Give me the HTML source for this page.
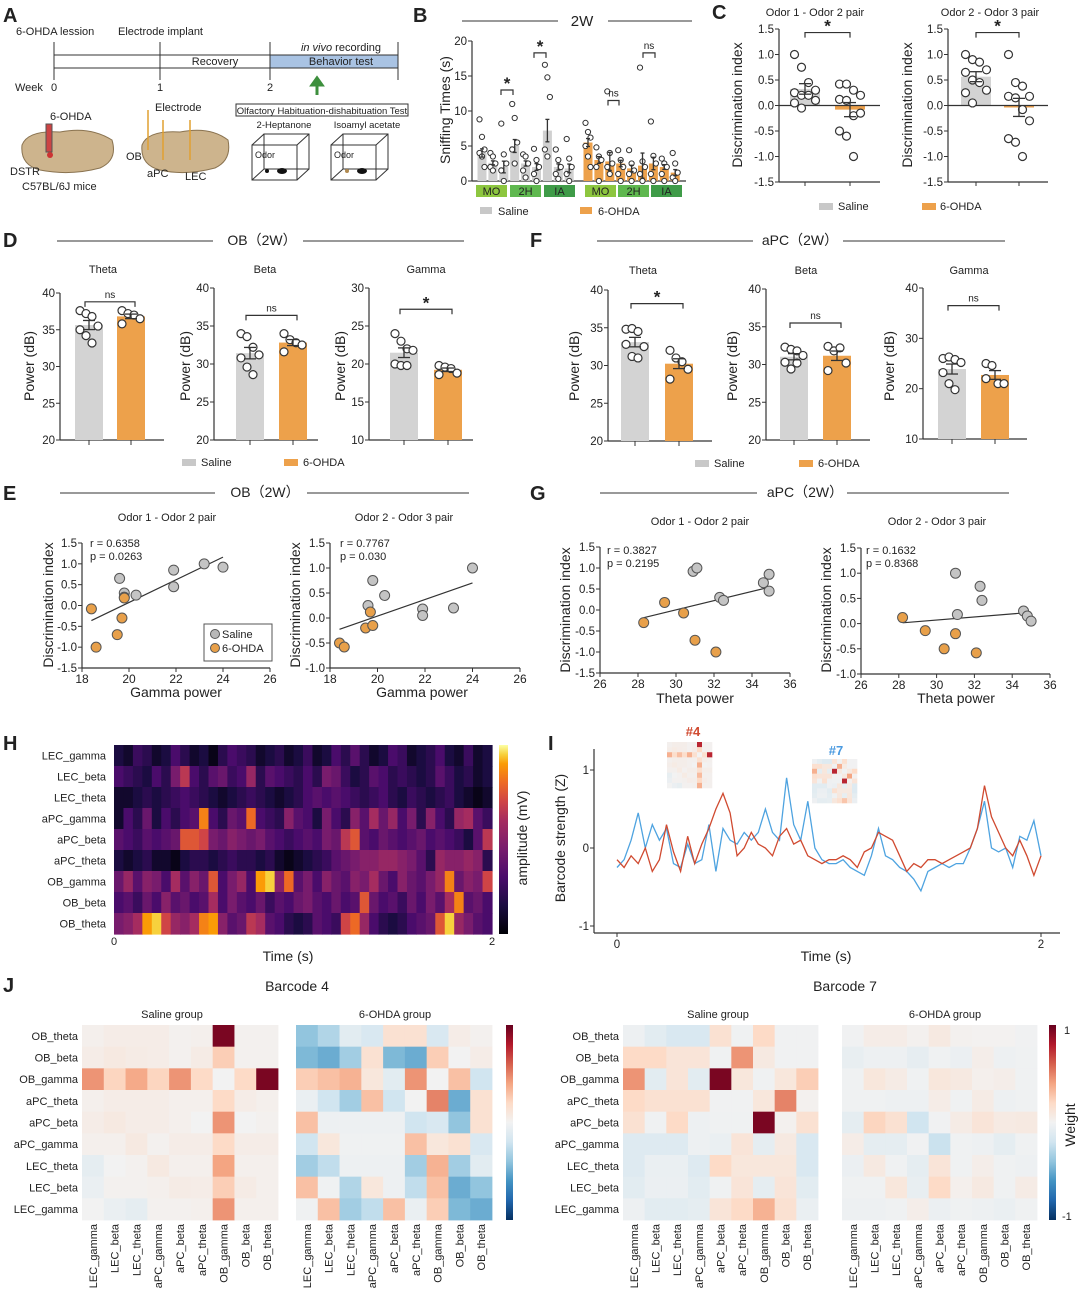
<!DOCTYPE html>
<html><head><meta charset="utf-8">
<style>
html,body{margin:0;padding:0;background:#fff;}
svg{display:block;font-family:"Liberation Sans","Noto Sans CJK SC",sans-serif;}
.t{fill:#222;}
</style></head>
<body>
<svg id="fig" width="1080" height="1296" viewBox="0 0 1080 1296" xmlns="http://www.w3.org/2000/svg">
<defs>
<linearGradient id="infernoGrad" x1="0" y1="1" x2="0" y2="0">
<stop offset="0" stop-color="#000004"/><stop offset="0.15" stop-color="#1b0c41"/><stop offset="0.3" stop-color="#4a0c6b"/><stop offset="0.45" stop-color="#781c6d"/><stop offset="0.6" stop-color="#a52c60"/><stop offset="0.7" stop-color="#cf4446"/><stop offset="0.8" stop-color="#ed6925"/><stop offset="0.9" stop-color="#fb9b06"/><stop offset="0.95" stop-color="#f7d13d"/><stop offset="1" stop-color="#fcffa4"/>
</linearGradient>
<linearGradient id="rdbuGrad" x1="0" y1="1" x2="0" y2="0">
<stop offset="0" stop-color="#053061"/><stop offset="0.1" stop-color="#2166ac"/><stop offset="0.2" stop-color="#4393c3"/><stop offset="0.3" stop-color="#92c5de"/><stop offset="0.4" stop-color="#d1e5f0"/><stop offset="0.5" stop-color="#f2f2f2"/><stop offset="0.6" stop-color="#fddbc7"/><stop offset="0.7" stop-color="#f4a582"/><stop offset="0.8" stop-color="#d6604d"/><stop offset="0.9" stop-color="#b2182b"/><stop offset="1" stop-color="#67001f"/>
</linearGradient>
</defs>

<!-- Panel letters -->
<g font-weight="bold" font-size="20" class="t">
<text x="3" y="22">A</text>
<text x="413" y="22">B</text>
<text x="712" y="19">C</text>
<text x="3" y="247">D</text>
<text x="530" y="247">F</text>
<text x="3" y="500">E</text>
<text x="530" y="500">G</text>
<text x="3" y="750">H</text>
<text x="548" y="750">I</text>
<text x="3" y="992">J</text>
</g>

<!-- Panel A schematic -->
<g font-size="11" class="t">
<text x="16" y="35">6-OHDA lession</text>
<text x="118" y="35">Electrode implant</text>
<rect x="270" y="55" width="128" height="13" fill="#a9c3e3"/>
<line x1="54" y1="55" x2="398" y2="55" stroke="#333"/>
<line x1="54" y1="68" x2="398" y2="68" stroke="#333"/>
<line x1="54" y1="42" x2="54" y2="80" stroke="#333"/><line x1="160" y1="42" x2="160" y2="80" stroke="#333"/>
<line x1="270" y1="42" x2="270" y2="80" stroke="#333"/><line x1="398" y1="42" x2="398" y2="80" stroke="#333"/>
<text x="215" y="65" text-anchor="middle">Recovery</text>
<text x="341" y="65" text-anchor="middle">Behavior test</text>
<text x="341" y="51" text-anchor="middle"><tspan font-style="italic">in vivo</tspan> recording</text>
<text x="15" y="91">Week</text>
<text x="51" y="91">0</text><text x="157" y="91">1</text><text x="267" y="91">2</text>
<path d="M317 95 L317 83 M312 85 L317 78 L322 85 Z" stroke="#3d8f3d" fill="#3d8f3d" stroke-width="3"/>
<text x="50" y="120">6-OHDA</text>
<path d="M22 145 Q28 130 60 132 Q90 126 112 140 Q118 160 100 168 Q70 176 40 170 Q20 165 22 145 Z" fill="#cdb48d" stroke="#8a7350"/>
<rect x="46" y="124" width="6" height="28" fill="#c44" stroke="#555"/>
<circle cx="50" cy="155" r="3" fill="#c33"/>
<text x="10" y="175">DSTR</text>
<text x="22" y="190">C57BL/6J mice</text>
<text x="155" y="111">Electrode</text>
<path d="M142 145 Q148 130 180 132 Q210 126 228 140 Q232 160 215 168 Q185 176 160 170 Q140 165 142 145 Z" fill="#cdb48d" stroke="#8a7350"/>
<line x1="148" y1="110" x2="148" y2="150" stroke="#e0a030" stroke-width="1.5"/><line x1="163" y1="120" x2="163" y2="160" stroke="#e0a030" stroke-width="1.5"/><line x1="190" y1="120" x2="190" y2="160" stroke="#e0a030" stroke-width="1.5"/>
<text x="126" y="160">OB</text>
<text x="147" y="177">aPC</text>
<text x="185" y="180">LEC</text>
<rect x="236" y="104" width="172" height="12" fill="none" stroke="#333"/>
<text x="322" y="114" text-anchor="middle" font-size="9.5">Olfactory Habituation-dishabituation Test</text>
<text x="284" y="128" text-anchor="middle" font-size="9.5">2-Heptanone</text>
<text x="367" y="128" text-anchor="middle" font-size="9.5">Isoamyl acetate</text>
<g fill="none" stroke="#333"><rect x="252" y="145" width="45" height="35"/><rect x="264" y="134" width="45" height="35"/><line x1="252" y1="145" x2="264" y2="134"/><line x1="297" y1="145" x2="309" y2="134"/><line x1="252" y1="180" x2="264" y2="169"/><line x1="297" y1="180" x2="309" y2="169"/></g>
<g fill="none" stroke="#333"><rect x="331" y="145" width="45" height="35"/><rect x="343" y="134" width="45" height="35"/><line x1="331" y1="145" x2="343" y2="134"/><line x1="376" y1="145" x2="388" y2="134"/><line x1="331" y1="180" x2="343" y2="169"/><line x1="376" y1="180" x2="388" y2="169"/></g>
<text x="255" y="158" font-size="9">Odor</text><text x="334" y="158" font-size="9">Odor</text>
<circle cx="267" cy="171" r="2" fill="#111"/><ellipse cx="282" cy="171" rx="5" ry="3" fill="#111"/>
<circle cx="347" cy="171" r="2" fill="#b08a50"/><ellipse cx="362" cy="171" rx="5" ry="3" fill="#111"/>
</g>

<!-- Panel B static -->
<g class="t" font-size="12">
<text x="582" y="26" text-anchor="middle" font-size="15">2W</text>
<line x1="462" y1="21" x2="558" y2="21" stroke="#333"/><line x1="608" y1="21" x2="692" y2="21" stroke="#333"/>
<text transform="translate(450,110) rotate(-90)" text-anchor="middle" font-size="14">Sniffing Times (s)</text>
<rect x="480" y="207" width="12" height="7" fill="#c8c8c8"/>
<text x="498" y="215" font-size="11">Saline</text>
<rect x="580" y="207" width="12" height="7" fill="#eda14b"/>
<text x="598" y="215" font-size="11">6-OHDA</text>
</g>

<!-- Panel C static -->
<g class="t" font-size="11">
<text x="815" y="16" text-anchor="middle">Odor 1 - Odor 2 pair</text>
<text x="990" y="16" text-anchor="middle">Odor 2 - Odor 3 pair</text>
<text transform="translate(742,105) rotate(-90)" text-anchor="middle" font-size="14">Discrimination index</text>
<text transform="translate(912,105) rotate(-90)" text-anchor="middle" font-size="14">Discrimination index</text>
<rect x="819" y="203" width="14" height="7" fill="#c8c8c8"/><text x="838" y="210">Saline</text>
<rect x="922" y="203" width="14" height="7" fill="#eda14b"/><text x="940" y="210">6-OHDA</text>
</g>

<!-- Panels D/F static -->
<g class="t" font-size="11">
<text x="262" y="245" text-anchor="middle" font-size="14">OB（2W）</text>
<line x1="57" y1="241" x2="213" y2="241" stroke="#333"/><line x1="303" y1="241" x2="464" y2="241" stroke="#333"/>
<text x="103" y="273" text-anchor="middle">Theta</text>
<text x="265" y="273" text-anchor="middle">Beta</text>
<text x="426" y="273" text-anchor="middle">Gamma</text>
<text transform="translate(34,366) rotate(-90)" text-anchor="middle" font-size="14">Power (dB)</text>
<text transform="translate(190,366) rotate(-90)" text-anchor="middle" font-size="14">Power (dB)</text>
<text transform="translate(345,366) rotate(-90)" text-anchor="middle" font-size="14">Power (dB)</text>
<rect x="182" y="459" width="14" height="7" fill="#c8c8c8"/><text x="201" y="466">Saline</text>
<rect x="284" y="459" width="14" height="7" fill="#eda14b"/><text x="303" y="466">6-OHDA</text>

<text x="800" y="245" text-anchor="middle" font-size="14">aPC（2W）</text>
<line x1="597" y1="241" x2="753" y2="241" stroke="#333"/><line x1="843" y1="241" x2="1005" y2="241" stroke="#333"/>
<text x="643" y="274" text-anchor="middle">Theta</text>
<text x="806" y="274" text-anchor="middle">Beta</text>
<text x="969" y="274" text-anchor="middle">Gamma</text>
<text transform="translate(579,366) rotate(-90)" text-anchor="middle" font-size="14">Power (dB)</text>
<text transform="translate(737,366) rotate(-90)" text-anchor="middle" font-size="14">Power (dB)</text>
<text transform="translate(894,366) rotate(-90)" text-anchor="middle" font-size="14">Power (dB)</text>
<rect x="695" y="460" width="14" height="7" fill="#c8c8c8"/><text x="714" y="467">Saline</text>
<rect x="799" y="460" width="14" height="7" fill="#eda14b"/><text x="818" y="467">6-OHDA</text>
</g>

<!-- Panels E/G static -->
<g class="t" font-size="11">
<text x="265" y="497" text-anchor="middle" font-size="14">OB（2W）</text>
<line x1="60" y1="493" x2="215" y2="493" stroke="#333"/><line x1="307" y1="493" x2="469" y2="493" stroke="#333"/>
<text x="167" y="521" text-anchor="middle">Odor 1 - Odor 2 pair</text>
<text x="404" y="521" text-anchor="middle">Odor 2 - Odor 3 pair</text>
<text transform="translate(53,605) rotate(-90)" text-anchor="middle" font-size="14">Discrimination index</text>
<text transform="translate(300,605) rotate(-90)" text-anchor="middle" font-size="14">Discrimination index</text>
<text x="176" y="697" text-anchor="middle" font-size="14">Gamma power</text>
<text x="422" y="697" text-anchor="middle" font-size="14">Gamma power</text>
<text x="90" y="547" font-size="11">r = 0.6358</text><text x="90" y="560" font-size="11">p = 0.0263</text>
<text x="340" y="547" font-size="11">r = 0.7767</text><text x="340" y="560" font-size="11">p = 0.030</text>
<rect x="204" y="624" width="68" height="37" fill="#fff" stroke="#555"/>
<circle cx="215" cy="634" r="4.5" fill="#b8b8b8" stroke="#555"/><text x="222" y="638">Saline</text>
<circle cx="215" cy="648" r="4.5" fill="#e8a04a" stroke="#555"/><text x="222" y="652">6-OHDA</text>

<text x="805" y="497" text-anchor="middle" font-size="14">aPC（2W）</text>
<line x1="600" y1="493" x2="757" y2="493" stroke="#333"/><line x1="847" y1="493" x2="1009" y2="493" stroke="#333"/>
<text x="700" y="525" text-anchor="middle">Odor 1 - Odor 2 pair</text>
<text x="937" y="525" text-anchor="middle">Odor 2 - Odor 3 pair</text>
<text transform="translate(570,610) rotate(-90)" text-anchor="middle" font-size="14">Discrimination index</text>
<text transform="translate(831,610) rotate(-90)" text-anchor="middle" font-size="14">Discrimination index</text>
<text x="695" y="703" text-anchor="middle" font-size="14">Theta power</text>
<text x="956" y="703" text-anchor="middle" font-size="14">Theta power</text>
<text x="607" y="554" font-size="11">r = 0.3827</text><text x="607" y="567" font-size="11">p = 0.2195</text>
<text x="866" y="554" font-size="11">r = 0.1632</text><text x="866" y="567" font-size="11">p = 0.8368</text>
</g>

<!-- Panel H static -->
<g class="t" font-size="11">
<rect x="499" y="745" width="9" height="189" fill="url(#infernoGrad)"/>
<text transform="translate(527,838) rotate(-90)" text-anchor="middle" font-size="14">amplitude (mV)</text>
<text x="114" y="945" text-anchor="middle">0</text><text x="492" y="945" text-anchor="middle">2</text>
<text x="288" y="961" text-anchor="middle" font-size="14">Time (s)</text>
</g>

<!-- Panel I static -->
<g class="t" font-size="11">
<text transform="translate(565,838) rotate(-90)" text-anchor="middle" font-size="14">Barcode strength (Z)</text>
<text x="826" y="961" text-anchor="middle" font-size="14">Time (s)</text>
<text x="693" y="736" text-anchor="middle" font-size="13" font-weight="bold" fill="#d04a30">#4</text>
<text x="836" y="755" text-anchor="middle" font-size="13" font-weight="bold" fill="#4a9ae0">#7</text>
</g>

<!-- Panel J static -->
<g class="t" font-size="11">
<text x="297" y="991" text-anchor="middle" font-size="14">Barcode 4</text>
<text x="845" y="991" text-anchor="middle" font-size="14">Barcode 7</text>
<text x="172" y="1018" text-anchor="middle">Saline group</text>
<text x="395" y="1018" text-anchor="middle">6-OHDA group</text>
<text x="718" y="1018" text-anchor="middle">Saline group</text>
<text x="945" y="1018" text-anchor="middle">6-OHDA group</text>
<rect x="506" y="1025" width="7" height="195" fill="url(#rdbuGrad)"/>
<rect x="1049" y="1025" width="7" height="195" fill="url(#rdbuGrad)"/>
<text x="1064" y="1034">1</text><text x="1062" y="1220">-1</text>
<text transform="translate(1075,1125) rotate(-90)" text-anchor="middle" font-size="14">Weight</text>
</g>
</svg>

<script>
// ---------- DATA ----------
const bCategories = ["MO","2H","IA","MO","2H","IA"];
const bSaline = [4.0,2.6,2.0,5.0,2.5,2.0,7.2,2.0,1.8];
const bOhda = [5.5,3.0,2.8,2.5,1.8,2.2,2.5,2.0,1.2];
const bSalinePts = [[8.8,6.3,4.5,4,3.5,2],[4,3.5,2.5,2,1.5],[8.2,3.8,2.5,1.5,0],[11,9,5.5,4.5,2.5],[3.8,3.5,2.5,1.5,0.5],[4.6,3,2,1,0],[16.6,14.8,12,4.5,3.5],[4.5,3,2,1,0.3],[6,3.2,2,1,0]];
const bOhdaPts = [[8.3,7,6.2,5,3.5,2],[4.8,3.5,3,2,0],[12.8,4,2.5,2,1],[4.4,3,2,1,0],[4.4,2.5,1.5,1,0],[16.2,2.8,2,1,0],[8.5,3.6,2.5,1,0],[3.2,2.5,2,1,0],[4,2.5,1.2,0.5,0]];

const cSal1 = [1.0,0.75,0.45,0.3,0.25,0.2,0.2,0.1,0.05,-0.05];
const cOhda1 = [0.42,0.42,0.3,0.2,0.12,0.1,-0.2,-0.15,-0.5,-0.6,-1.0];
const cSal2 = [1.0,0.9,0.85,0.7,0.65,0.5,0.45,0.3,0.25,0.05];
const cOhda2 = [1.0,0.45,0.38,0.18,0.18,0.15,-0.08,-0.3,-0.65,-0.72,-1.0];

const dThetaSal = [37.6,37.2,36.8,35.5,35.0,34.2,33.2];
const dThetaOhda = [37.6,37.2,37.0,36.5,35.8];
const dBetaSal = [34.0,33.6,32.2,31.2,30.8,29.6,28.6];
const dBetaOhda = [34.0,33.2,32.8,32.5,31.6];
const dGammaSal = [24.0,23.0,22.0,21.8,20.0,19.8,19.8];
const dGammaOhda = [19.8,19.6,19.4,18.8,18.6];
const fThetaSal = [34.8,34.9,34.5,32.5,32.8,31.2,31.0];
const fThetaOhda = [32.0,31.0,30.5,29.5,28.2];
const fBetaSal = [32.3,32.0,31.8,31.2,30.3,29.4,30.2];
const fBetaOhda = [32.4,31.8,32.2,30.2,29.2];
const fGammaSal = [26.0,26.3,25.8,25.2,23.2,21.0,19.8];
const fGammaOhda = [25.0,24.6,21.0,21.0,22.0];

const eLeftSalX = [19.6,19.8,19.8,20.3,21.9,21.9,23.2,24.0];
const eLeftSalY = [0.65,0.3,0.2,0.25,0.85,0.45,1.0,0.92];
const eLeftOhdaX = [18.4,18.6,19.5,19.7,19.8];
const eLeftOhdaY = [-0.08,-1.0,-0.7,-0.3,0.18];
const eRightSalX = [19.6,19.8,20.3,21.9,21.9,23.2,24.0];
const eRightSalY = [0.25,0.75,0.45,0.18,0.05,0.2,1.0];
const eRightOhdaX = [18.4,18.6,19.5,19.7,19.8];
const eRightOhdaY = [-0.5,-0.58,-0.2,0.12,-0.15];
const gLeftSalX = [30.9,31.1,32.3,32.5,34.6,34.9,34.9];
const gLeftSalY = [0.92,1.0,0.3,0.23,0.65,0.85,0.45];
const gLeftOhdaX = [28.3,29.4,30.4,31.0,32.1];
const gLeftOhdaY = [-0.3,0.18,-0.07,-0.72,-1.0];
const gRightSalX = [31.0,31.1,32.3,32.4,34.6,34.8,35.0];
const gRightSalY = [1.0,0.18,0.74,0.46,0.25,0.15,0.05];
const gRightOhdaX = [28.2,29.4,30.4,31.0,32.1];
const gRightOhdaY = [0.12,-0.14,-0.5,-0.2,-0.58];

const hRows = ["LEC_gamma","LEC_beta","LEC_theta","aPC_gamma","aPC_beta","aPC_theta","OB_gamma","OB_beta","OB_theta"];
const hLEC_gamma = [0.15,0.1,0.25,0.2,0.1,0.15,0.3,0.2,0.1,0.15,0.05,0.2,0.3,0.25,0.2,0.1,0.15,0.2,0.1,0.15,0.25,0.1,0.15,0.3,0.2,0.35,0.2,0.1,0.15,0.3,0.25,0.1,0.15,0.2,0.3,0.15,0.1,0.25,0.1,0.15];
const hLEC_beta = [0.3,0.25,0.2,0.15,0.3,0.2,0.45,0.65,0.3,0.2,0.35,0.4,0.25,0.3,0.55,0.2,0.35,0.3,0.25,0.2,0.3,0.2,0.45,0.4,0.25,0.15,0.2,0.35,0.3,0.2,0.25,0.2,0.15,0.2,0.35,0.25,0.15,0.2,0.1,0.15];
const hLEC_theta = [0.1,0.1,0.15,0.2,0.15,0.2,0.25,0.3,0.25,0.2,0.15,0.1,0.15,0.2,0.25,0.2,0.15,0.1,0.15,0.2,0.3,0.35,0.3,0.35,0.3,0.25,0.2,0.25,0.3,0.2,0.15,0.25,0.2,0.15,0.2,0.25,0.15,0.1,0.05,0.1];
const hAPC_gamma = [0.1,0.3,0.2,0.4,0.15,0.3,0.2,0.3,0.35,0.85,0.3,0.2,0.4,0.35,0.8,0.3,0.25,0.2,0.5,0.35,0.3,0.15,0.45,0.3,0.2,0.5,0.35,0.6,0.4,0.55,0.3,0.45,0.2,0.5,0.3,0.2,0.55,0.6,0.35,0.25];
const hAPC_beta = [0.35,0.3,0.25,0.35,0.3,0.35,0.4,0.75,0.75,0.7,0.45,0.4,0.5,0.45,0.4,0.45,0.35,0.3,0.25,0.3,0.35,0.3,0.45,0.4,0.65,0.75,0.35,0.3,0.4,0.35,0.3,0.35,0.4,0.3,0.35,0.3,0.25,0.15,0.35,0.65];
const hAPC_theta = [0.15,0.1,0.15,0.2,0.1,0.1,0.05,0.15,0.2,0.2,0.15,0.2,0.25,0.2,0.2,0.15,0.2,0.1,0.05,0.1,0.15,0.2,0.25,0.35,0.4,0.45,0.5,0.5,0.55,0.55,0.5,0.45,0.35,0.2,0.55,0.5,0.5,0.55,0.5,0.2];
const hOB_gamma = [0.4,0.55,0.35,0.5,0.45,0.3,0.6,0.35,0.5,0.4,0.75,0.3,0.45,0.55,0.3,0.9,0.95,0.5,0.8,0.35,0.45,0.3,0.5,0.4,0.35,0.5,0.45,0.6,0.4,0.3,0.5,0.4,0.35,0.45,0.55,0.85,0.4,0.5,0.45,0.7];
const hOB_beta = [0.3,0.35,0.25,0.4,0.3,0.5,0.35,0.4,0.3,0.35,0.6,0.3,0.45,0.35,0.3,0.4,0.25,0.35,0.3,0.4,0.45,0.35,0.3,0.4,0.3,0.35,0.75,0.4,0.3,0.35,0.25,0.4,0.3,0.45,0.35,0.6,0.85,0.35,0.4,0.3];
const hOB_theta = [0.45,0.5,0.6,0.9,0.95,0.7,0.55,0.5,0.6,0.85,0.9,0.5,0.35,0.4,0.65,0.6,0.35,0.3,0.2,0.15,0.2,0.35,0.3,0.25,0.7,0.8,0.55,0.3,0.2,0.15,0.2,0.3,0.35,0.4,0.75,0.95,0.55,0.45,0.35,0.3];

const iRed = [-0.15,-0.25,-0.1,-0.2,0.0,-0.3,-0.15,0.3,-0.05,-0.3,0.15,-0.2,0.05,0.25,0.5,0.7,0.45,-0.1,0.0,0.2,0.05,0.0,-0.1,0.15,0.25,0.05,0.1,-0.1,-0.15,-0.2,-0.15,-0.15,-0.1,-0.15,-0.25,-0.05,0.0,0.2,0.15,0.1,-0.1,-0.3,-0.2,-0.25,-0.15,-0.15,-0.2,-0.15,-0.1,-0.05,0.0,0.25,0.8,0.4,0.2,0.0,-0.1,0.1,-0.1,-0.35,-0.1];
const iBlue = [-0.25,-0.15,0.1,0.45,0.0,0.3,0.1,0.25,-0.2,-0.25,0.05,-0.2,-0.15,0.3,-0.3,0.25,0.1,0.05,0.2,0.1,0.2,0.5,0.2,0.1,0.9,0.3,0.1,0.6,0.0,-0.15,-0.2,-0.2,-0.15,-0.25,-0.3,-0.35,-0.1,0.25,-0.1,-0.15,-0.25,-0.3,-0.4,-0.55,-0.3,-0.25,-0.2,-0.25,-0.2,-0.2,0.0,0.25,0.6,0.0,-0.05,0.0,-0.25,0.15,0.1,0.35,-0.1];

const jRows = ["OB_theta","OB_beta","OB_gamma","aPC_theta","aPC_beta","aPC_gamma","LEC_theta","LEC_beta","LEC_gamma"];
const jCols = ["LEC_gamma","LEC_beta","LEC_theta","aPC_gamma","aPC_beta","aPC_theta","OB_gamma","OB_beta","OB_theta"];
const b4Saline = [
[0.03,0.05,0.05,0.05,0.02,0.03,0.95,0.02,0.02],
[0.05,0.08,0.06,0.05,0.02,0.06,0.25,0.02,0.02],
[0.45,0.22,0.38,0.22,0.45,0.2,0.0,0.2,0.95],
[0.03,0.05,0.05,0.05,0.03,0.03,0.2,0.05,0.03],
[0.05,0.08,0.05,0.05,0.03,0.0,0.45,0.0,0.02],
[0.03,0.03,0.08,0.02,0.05,0.05,0.2,0.05,0.05],
[-0.08,0.0,0.02,0.08,0.03,0.03,0.4,0.03,0.03],
[-0.05,0.02,0.02,0.03,0.06,0.05,0.25,0.06,0.03],
[0.0,-0.05,-0.08,0.02,0.02,0.03,0.45,0.03,0.03]];
const b4Ohda = [
[-0.4,-0.3,-0.1,-0.15,0.15,0.15,-0.15,0.05,0.02],
[-0.45,-0.5,-0.35,0.15,-0.45,-0.5,0.25,0.0,0.05],
[0.25,0.3,0.35,0.1,-0.1,0.45,0.0,0.3,-0.2],
[-0.05,-0.2,-0.35,0.3,-0.2,0.0,0.5,-0.5,0.15],
[0.3,-0.03,-0.03,-0.03,-0.03,-0.2,-0.15,-0.4,0.15],
[-0.2,0.1,-0.02,-0.02,-0.02,0.3,0.1,0.15,-0.15],
[-0.35,-0.25,-0.03,-0.03,-0.03,-0.35,0.35,-0.35,-0.1],
[0.3,-0.02,-0.3,0.1,-0.03,-0.25,0.3,-0.5,-0.4],
[-0.02,0.3,-0.35,-0.25,0.3,-0.05,0.25,-0.45,-0.5]];
const b7Saline = [
[-0.03,-0.1,-0.15,-0.15,0.15,-0.02,0.2,-0.01,-0.01],
[0.2,0.2,0.12,0.12,-0.02,0.45,0.08,-0.01,-0.01],
[0.45,-0.1,0.12,-0.1,0.95,0.1,-0.02,0.1,0.25],
[0.2,0.15,0.15,0.15,-0.01,-0.01,0.1,0.5,0.02],
[0.15,-0.02,0.2,-0.03,-0.02,-0.02,0.95,0.02,0.15],
[-0.12,-0.12,-0.12,-0.03,-0.05,0.12,-0.08,0.08,-0.15],
[-0.12,-0.05,-0.05,-0.12,0.2,0.1,0.1,0.1,-0.15],
[-0.1,-0.04,-0.04,-0.1,-0.02,0.12,-0.08,0.12,-0.1],
[-0.03,-0.1,-0.1,-0.08,0.12,0.2,0.35,0.15,-0.05]];
const b7Ohda = [
[-0.01,0.05,0.05,0.02,0.08,0.02,0.01,0.01,-0.01],
[-0.06,-0.03,-0.03,-0.07,-0.02,-0.04,0.04,-0.03,-0.02],
[-0.02,0.1,0.06,-0.02,0.1,0.08,0.03,0.04,-0.02],
[-0.02,-0.02,-0.03,-0.03,0.05,-0.02,0.06,-0.03,-0.02],
[-0.08,0.22,0.15,-0.2,-0.01,0.06,0.12,0.07,0.08],
[0.05,-0.08,-0.08,-0.01,-0.22,-0.02,-0.03,-0.08,-0.02],
[-0.04,0.08,-0.02,-0.08,0.12,-0.02,0.04,-0.02,-0.03],
[-0.02,-0.02,0.1,-0.06,0.2,0.03,0.08,-0.02,0.06],
[-0.03,-0.03,-0.02,0.04,-0.04,-0.02,-0.03,-0.05,-0.02]];

// ---------- HELPERS ----------
const svg = document.getElementById('fig');
const NS = 'http://www.w3.org/2000/svg';
function mk(tag, attrs){ const e=document.createElementNS(NS,tag); for(const k in attrs) e.setAttribute(k,attrs[k]); svg.appendChild(e); return e; }
function tx(x,y,s,attrs){ const e=mk('text',Object.assign({x:x,y:y,fill:'#222','font-size':11},attrs||{})); e.textContent=s; return e; }
function lin(d0,d1,r0,r1){ return v => r0+(v-d0)/(d1-d0)*(r1-r0); }
function mean(a){ return a.reduce((s,v)=>s+v,0)/a.length; }
function sem(a){ const m=mean(a); return Math.sqrt(a.reduce((s,v)=>s+(v-m)*(v-m),0)/(a.length-1))/Math.sqrt(a.length); }
function lerpColor(stops, t){
  t=Math.max(0,Math.min(1,t));
  for(let i=1;i<stops.length;i++){ if(t<=stops[i][0]){ const a=stops[i-1], b=stops[i]; const f=(t-a[0])/(b[0]-a[0]);
    const ca=a[1], cb=b[1]; const c=[0,1,2].map(k=>Math.round(ca[k]+(cb[k]-ca[k])*f)); return 'rgb('+c.join(',')+')'; } }
  return 'rgb('+stops[stops.length-1][1].join(',')+')';
}
const inferno=[[0,[0,0,4]],[0.15,[27,12,65]],[0.3,[74,12,107]],[0.45,[120,28,109]],[0.6,[165,44,96]],[0.7,[207,68,70]],[0.8,[237,105,37]],[0.9,[251,155,6]],[0.95,[247,209,61]],[1,[252,255,164]]];
const rdbu=[[0,[5,48,97]],[0.1,[33,102,172]],[0.2,[67,147,195]],[0.3,[146,197,222]],[0.4,[209,229,240]],[0.5,[242,242,242]],[0.6,[253,219,199]],[0.7,[244,165,130]],[0.8,[214,96,77]],[0.9,[178,24,43]],[1,[103,0,31]]];

function yAxis(ax, y, ticks, fmt, top, bot){
  const a=mk('line',{x1:ax,y1:top,x2:ax,y2:bot,stroke:'#333','stroke-width':1.2});
  
  
  ticks.forEach(v=>{
    mk('line',{x1:ax-4,y1:y(v),x2:ax,y2:y(v),stroke:'#333'});
    const t=tx(ax-5,y(v)+4,fmt(v),{'text-anchor':'end','font-size':11.5});
    
    
  });
}
function sigBracket(x1,x2,yy,label){
  mk('path',{d:`M${x1} ${yy+5} V${yy} H${x2} V${yy+5}`,fill:'none',stroke:'#333','stroke-width':1.2});
  const t=tx((x1+x2)/2,label==='*'?yy-1:yy-4,label,{'text-anchor':'middle','font-size':label==='*'?17:10,'font-weight':label==='*'?'bold':'normal'});
  
  
}
function dots(cx, pts, y, spread){
  pts.forEach((v,i)=>{
    const dx = ((i%4)-1.5)*spread;
    const c=mk('circle',{cx:cx+dx,cy:y(v),r:4,fill:'#fff',stroke:'#333','stroke-width':1.2});
    
    
  });
}
function errBar(cx, m, s, y, hw){
  mk('line',{x1:cx,y1:y(m-s),x2:cx,y2:y(m+s),stroke:'#333','stroke-width':1.3});
  mk('line',{x1:cx-hw,y1:y(m+s),x2:cx+hw,y2:y(m+s),stroke:'#333','stroke-width':1.3});
  mk('line',{x1:cx-hw,y1:y(m-s),x2:cx+hw,y2:y(m-s),stroke:'#333','stroke-width':1.3});
}

// ---------- PANEL B ----------
(function(){
  const ax=472, y=lin(0,20,181,41);
  yAxis(ax,y,[0,5,10,15,20],v=>String(v),41,181);
  mk('line',{x1:ax,y1:181,x2:686,y2:181,stroke:'#333','stroke-width':1.2});
  const bandCols=['#8dc63f','#5fb84f','#3f9b48','#8dc63f','#5fb84f','#3f9b48'];
  bCategories.forEach((c,i)=>{
    const x0 = (i<3? 476+i*34 : 585+(i-3)*33);
    const r=mk('rect',{x:x0,y:185,width:31,height:12,fill:bandCols[i]});
    
    
    const t=tx(x0+15.5,195,c,{'text-anchor':'middle','font-size':11});
    
    
  });
  function group(vals, pts, x0, color){
    vals.forEach((v,i)=>{
      const cx=x0+i*10.9;
      const r=mk('rect',{x:cx-4.5,y:y(v),width:9,height:181-y(v),fill:color});
      
      
      pts[i].forEach((p,k)=>{
        const c=mk('circle',{cx:cx+((k%3)-1)*2.5,cy:y(p),r:2.6,fill:'#fff',stroke:'#333','stroke-width':1});
        
        
      });
      errBar(cx,v,sem(pts[i])*0.6,y,2);
    });
  }
  group(bSaline,bSalinePts,482,'#d0d0d0');
  group(bOhda,bOhdaPts,588,'#eda14b');
  sigBracket(501,513,y(13),'*');
  sigBracket(534,546,y(18.3),'*');
  sigBracket(608,619,y(11.5),'ns');
  sigBracket(643,655,y(18.3),'ns');
})();

// ---------- PANEL C ----------
function cPanel(ax, right, sal, ohda, gx, ox){
  const y=lin(-1.5,1.5,182,29);
  yAxis(ax,y,[-1.5,-1.0,-0.5,0,0.5,1.0,1.5],v=>v.toFixed(1),29,182);
  mk('line',{x1:ax,y1:182,x2:right,y2:182,stroke:'#333','stroke-width':1.2});
  mk('line',{x1:gx,y1:182,x2:gx,y2:186,stroke:'#333'}); mk('line',{x1:ox,y1:182,x2:ox,y2:186,stroke:'#333'});
  const ms=mean(sal), mo=mean(ohda);
  const r1=mk('rect',{x:gx-15,y:Math.min(y(ms),y(0)),width:30,height:Math.abs(y(ms)-y(0)),fill:'#d3d3d3'});
  
  
  const r2=mk('rect',{x:ox-15,y:Math.min(y(mo),y(0)),width:30,height:Math.max(2,Math.abs(y(mo)-y(0))),fill:'#eda14b'});
  
  
  mk('line',{x1:ax,y1:y(0),x2:right,y2:y(0),stroke:'#333','stroke-width':1.2});
  dots(gx,sal,y,7); dots(ox,ohda,y,7);
  errBar(gx,ms,sem(sal),y,6); errBar(ox,mo,sem(ohda),y,6);
  sigBracket(gx,ox,y(1.43),'*');
}
cPanel(779,880,cSal1,cOhda1,805,850);
cPanel(948,1048,cSal2,cOhda2,976,1019);

// ---------- PANELS D/F ----------
function barPanel(ax,top,bot,vmin,vmax,ticks,gx,ox,sal,ohda,sig,sigV){
  const y=lin(vmin,vmax,bot,top);
  yAxis(ax,y,ticks,v=>String(v),top,bot);
  mk('line',{x1:ax,y1:bot,x2:ax+104,y2:bot,stroke:'#333','stroke-width':1.2});
  mk('line',{x1:gx,y1:bot,x2:gx,y2:bot+5,stroke:'#333'}); mk('line',{x1:ox,y1:bot,x2:ox,y2:bot+5,stroke:'#333'});
  const ms=mean(sal), mo=mean(ohda);
  const r1=mk('rect',{x:gx-14,y:y(ms),width:28,height:bot-y(ms),fill:'#d3d3d3'});
  
  
  const r2=mk('rect',{x:ox-14,y:y(mo),width:28,height:bot-y(mo),fill:'#eda14b'});
  
  
  dots(gx,sal,y,6); dots(ox,ohda,y,6);
  errBar(gx,ms,sem(sal),y,6); errBar(ox,mo,sem(ohda),y,6);
  sigBracket(gx-4,ox+4,y(sigV),sig);
}
barPanel(60,293,440,20,40,[20,25,30,35,40],89,131,dThetaSal,dThetaOhda,'ns',38.8);
barPanel(214,288,440,20,40,[20,25,30,35,40],250,293,dBetaSal,dBetaOhda,'ns',36.4);
barPanel(369,288,440,10,30,[10,15,20,25,30],404,448,dGammaSal,dGammaOhda,'*',27.2);
barPanel(608,290,441,20,40,[20,25,30,35,40],635,679,fThetaSal,fThetaOhda,'*',38.2);
barPanel(766,289,440,20,40,[20,25,30,35,40],794,837,fBetaSal,fBetaOhda,'ns',35.5);
barPanel(923,288,439,10,40,[10,20,30,40],952,995,fGammaSal,fGammaOhda,'ns',36.5);

// ---------- PANELS E/G ----------
function scatter(ax,xr,x0,x1,xt,top,bot,y0,y1,yt,sx,sy,ox,oy){
  const x=lin(x0,x1,ax,xr), y=lin(y0,y1,bot,top);
  yAxis(ax,y,yt,v=>v.toFixed(1),top,bot);
  mk('line',{x1:ax,y1:bot,x2:xr,y2:bot,stroke:'#333','stroke-width':1.2});
  xt.forEach(v=>{
    mk('line',{x1:x(v),y1:bot,x2:x(v),y2:bot+4,stroke:'#333'});
    const t=tx(x(v),bot+15,String(v),{'text-anchor':'middle','font-size':12});
    
    
  });
  const X=sx.concat(ox), Y=sy.concat(oy);
  const mx=mean(X), my=mean(Y);
  let num=0,den=0; X.forEach((v,i)=>{num+=(v-mx)*(Y[i]-my); den+=(v-mx)*(v-mx);});
  const b=num/den, a=my-b*mx, xa=Math.min(...X), xb=Math.max(...X);
  const l=mk('line',{x1:x(xa),y1:y(a+b*xa),x2:x(xb),y2:y(a+b*xb),stroke:'#333','stroke-width':1.2});
  
  
  sx.forEach((v,i)=>{
    const c=mk('circle',{cx:x(v),cy:y(sy[i]),r:5,fill:'#c4c4c4',stroke:'#555','stroke-width':1});
    
    
  });
  ox.forEach((v,i)=>{
    const c=mk('circle',{cx:x(v),cy:y(oy[i]),r:5,fill:'#e8a04a',stroke:'#555','stroke-width':1});
    
    
  });
}
scatter(82,270,18,26,[18,20,22,24,26],543,668,-1.5,1.5,[-1.5,-1.0,-0.5,0,0.5,1.0,1.5],eLeftSalX,eLeftSalY,eLeftOhdaX,eLeftOhdaY);
scatter(330,520,18,26,[18,20,22,24,26],543,668,-1.0,1.5,[-1.0,-0.5,0,0.5,1.0,1.5],eRightSalX,eRightSalY,eRightOhdaX,eRightOhdaY);
scatter(600,790,26,36,[26,28,30,32,34,36],547,673,-1.5,1.5,[-1.5,-1.0,-0.5,0,0.5,1.0,1.5],gLeftSalX,gLeftSalY,gLeftOhdaX,gLeftOhdaY);
scatter(861,1050,26,36,[26,28,30,32,34,36],548,674,-1.0,1.5,[-1.0,-0.5,0,0.5,1.0,1.5],gRightSalX,gRightSalY,gRightOhdaX,gRightOhdaY);

// ---------- PANEL H ----------
(function(){
  const rows=[hLEC_gamma,hLEC_beta,hLEC_theta,hAPC_gamma,hAPC_beta,hAPC_theta,hOB_gamma,hOB_beta,hOB_theta];
  const x0=114,x1=492,y0=745,y1=934, rh=(y1-y0)/rows.length;
  rows.forEach((row,r)=>{
    const cw=(x1-x0)/row.length;
    row.forEach((v,c)=>{
      const e=mk('rect',{x:x0+c*cw,y:y0+r*rh,width:cw+0.6,height:rh+0.6,fill:lerpColor(inferno,v)});
      
      
    });
    const t=tx(106,y0+r*rh+rh/2+4,hRows[r],{'text-anchor':'end','font-size':11});
    
    
  });
})();

// ---------- PANEL I ----------
(function(){
  const x=lin(0,2,617,1041), y=lin(-1,1,926,770);
  yAxis(594,y,[-1,0,1],v=>String(v),749,933);
  mk('line',{x1:594,y1:933,x2:1060,y2:933,stroke:'#333','stroke-width':1.2});
  [0,2].forEach(v=>{
    mk('line',{x1:x(v),y1:933,x2:x(v),y2:937,stroke:'#333'});
    const t=tx(x(v),948,String(v),{'text-anchor':'middle','font-size':11.5});
    
    
  });
  function series(vals,col,name){
    const d=vals.map((v,i)=>(i?'L':'M')+x(i*2/(vals.length-1)).toFixed(1)+' '+y(v).toFixed(1)).join(' ');
    const p=mk('path',{d:d,fill:'none',stroke:col,'stroke-width':1.3});
    
    
  }
  series(iBlue,'#4ea3e0','barcode-7-line');
  series(iRed,'#d04a30','barcode-4-line');
  function inset(m,x0,y0,w,h){
    const cw=w/9, ch=h/9;
    m.forEach((row,r)=>row.forEach((v,c)=>{
      const e=mk('rect',{x:x0+c*cw,y:y0+r*ch,width:cw+0.3,height:ch+0.3,fill:lerpColor(rdbu,(v*0.8+1)/2)});
      
      
    }));
  }
  inset(b4Saline,667,742,45,46);
  inset(b7Saline,812,759,45,44);
})();

// ---------- PANEL J ----------
function jHeat(m,x0,x1,y0,y1,rowLabels){
  const cw=(x1-x0)/9, ch=(y1-y0)/9;
  m.forEach((row,r)=>row.forEach((v,c)=>{
    const e=mk('rect',{x:x0+c*cw,y:y0+r*ch,width:cw+0.4,height:ch+0.4,fill:lerpColor(rdbu,(v+1)/2)});
    
    
  }));
  if(rowLabels){
    jRows.forEach((s,r)=>{
      const t=tx(x0-4,y0+r*ch+ch/2+4,s,{'text-anchor':'end','font-size':11});
      
      
    });
  }
  jCols.forEach((s,c)=>{
    const cx=x0+c*cw+cw/2+4, cy=y1+4;
    const t=tx(0,0,s,{'text-anchor':'end','font-size':11,transform:`translate(${cx},${cy}) rotate(-90)`});
    
    
  });
}
jHeat(b4Saline,82,278,1025,1220,true);
jHeat(b4Ohda,296,492,1025,1220,false);
jHeat(b7Saline,623,818,1025,1220,true);
jHeat(b7Ohda,842,1037,1025,1220,false);
</script>
</body></html>
